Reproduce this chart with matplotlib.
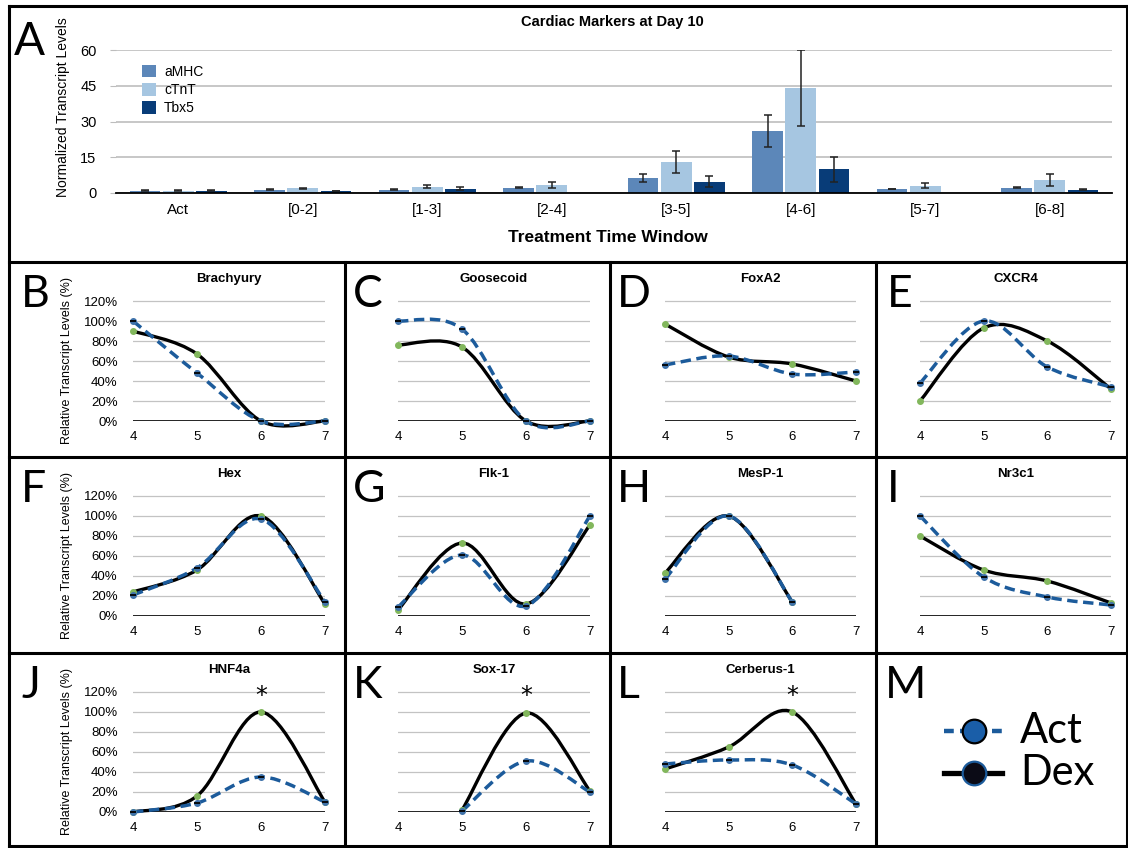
import numpy as np
import matplotlib
matplotlib.use('Agg')
from matplotlib import pyplot as plt
from matplotlib.path import Path
from matplotlib.patches import PathPatch
from matplotlib.lines import Line2D

plt.rcParams['font.family'] = ['Liberation Sans', 'DejaVu Sans']

W, H = 1128, 848

# ---- panel A: cardiac markers at day 10 ----
windows = ['Act', '[0-2]', '[1-3]', '[2-4]', '[3-5]', '[4-6]', '[5-7]', '[6-8]']
amhc = [1.0, 1.4, 1.4, 2.2, 6.3, 25.9, 1.7, 2.3]
amhc_err = [0.2, 0.15, 0.2, 0.3, 1.7, 6.7, 0.15, 0.3]
ctnt = [1.0, 1.9, 2.6, 3.2, 13.2, 44.1, 3.1, 5.6]
ctnt_err = [0.2, 0.2, 0.6, 1.3, 4.6, 16.0, 0.9, 2.5]
tbx5 = [1.0, 0.9, 1.8, np.nan, 4.8, 9.9, np.nan, 1.4]
tbx5_err = [0.2, 0.1, 0.7, np.nan, 2.2, 5.1, np.nan, 0.3]

# ---- panels B-L: relative transcript levels (%) by day ----
days = [4, 5, 6, 7]
brachyury_act = [100, 48, 0, 0]
brachyury_dex = [90, 67, 0, 0]
goosecoid_act = [100, 92, 0, 0]
goosecoid_dex = [76, 74, 0, 0]
foxa2_act = [56, 65, 47, 49]
foxa2_dex = [97, 64, 57, 40]
cxcr4_act = [38, 100, 54, 34]
cxcr4_dex = [20, 93, 80, 32]
hex_act = [21, 48, 97, 14]
hex_dex = [24, 46, 100, 12]
flk1_act = [9, 61, 10, 100]
flk1_dex = [6, 73, 12, 91]
mesp1_act = [37, 100, 14, None]
mesp1_dex = [43, 100, 14, None]
nr3c1_act = [100, 39, 19, 11]
nr3c1_dex = [80, 46, 35, 13]
hnf4a_act = [0, 9, 35, 10]
hnf4a_dex = [0, 16, 100, 10]
sox17_act = [None, 1, 51, 20]
sox17_dex = [None, 2, 99, 21]
cerberus_act = [48, 52, 47, 8]
cerberus_dex = [43, 65, 100, 8]

panels = [
    ('B', 'Brachyury', brachyury_act, brachyury_dex, False),
    ('C', 'Goosecoid', goosecoid_act, goosecoid_dex, False),
    ('D', 'FoxA2', foxa2_act, foxa2_dex, False),
    ('E', 'CXCR4', cxcr4_act, cxcr4_dex, False),
    ('F', 'Hex', hex_act, hex_dex, False),
    ('G', 'Flk-1', flk1_act, flk1_dex, False),
    ('H', 'MesP-1', mesp1_act, mesp1_dex, False),
    ('I', 'Nr3c1', nr3c1_act, nr3c1_dex, False),
    ('J', 'HNF4a', hnf4a_act, hnf4a_dex, True),
    ('K', 'Sox-17', sox17_act, sox17_dex, True),
    ('L', 'Cerberus-1', cerberus_act, cerberus_dex, True),
]

ACT_COLOR = '#1c5b9b'
LETTER_FONT = ['Lato', 'DejaVu Sans']


def px_box(x0, y0, x1, y1):
    ''' pixel box (top-left origin) -> figure fraction rect '''
    return [x0 / W, 1 - y1 / H, (x1 - x0) / W, (y1 - y0) / H]


def fig_line(fig, xs, ys, **kw):
    fig.add_artist(Line2D([x / W for x in xs], [1 - y / H for y in ys],
                          transform=fig.transFigure, **kw))


def fig_marker(fig, x, y, **kw):
    fig.add_artist(Line2D([x / W], [1 - y / H], transform=fig.transFigure, ls='none', **kw))


def smooth_curve(ax, xs, ys, **kw):
    ''' Excel-like smoothed line through the points (Bezier path) '''
    pts = [(x, y) for x, y in zip(xs, ys) if y is not None]
    verts = [pts[0]]
    codes = [Path.MOVETO]
    for i in range(len(pts) - 1):
        p0 = pts[max(i - 1, 0)]
        p1 = pts[i]
        p2 = pts[i + 1]
        p3 = pts[min(i + 2, len(pts) - 1)]
        c1 = (p1[0] + (p2[0] - p0[0]) / 6, p1[1] + (p2[1] - p0[1]) / 6)
        c2 = (p2[0] - (p3[0] - p1[0]) / 6, p2[1] - (p3[1] - p1[1]) / 6)
        verts += [c1, c2, p2]
        codes += [Path.CURVE4] * 3
    ax.add_patch(PathPatch(Path(verts, codes), fill=False, clip_on=False, **kw))


fig = plt.figure(figsize=(W / 100, H / 100), dpi=100)

# ---- panel A ----
axA = fig.add_axes(px_box(116, 50, 1112, 193))
x = np.arange(len(windows))
bw = 0.245
step = 0.266
err_kw = dict(ecolor='#222222', elinewidth=1.1, capsize=3, capthick=1.1)
axA.bar(x - step, amhc, bw, yerr=amhc_err, color='#5c87b9', label='aMHC', error_kw=err_kw, zorder=3)
axA.bar(x, ctnt, bw, yerr=ctnt_err, color='#a6c6e1', label='cTnT', error_kw=err_kw, zorder=3)
axA.bar(x + step, tbx5, bw, yerr=tbx5_err, color='#083c78', label='Tbx5', error_kw=err_kw, zorder=3)
axA.set_xlim(-0.5, len(windows) - 0.5)
axA.set_ylim(0, 60)
axA.set_yticks([0, 15, 30, 45, 60])
axA.set_xticks(x)
axA.set_xticklabels(windows, fontsize=11)
axA.tick_params(axis='y', length=4, color='#bdbdbd', pad=10, labelsize=10.5)
axA.tick_params(axis='x', length=0, pad=7)
axA.yaxis.grid(True, color='#bdbdbd', lw=1.2)
axA.set_axisbelow(True)
for s in ['top', 'right', 'left']:
    axA.spines[s].set_visible(False)
axA.spines['bottom'].set_linewidth(1.3)
axA.spines['bottom'].set_zorder(4)
axA.set_ylabel('Normalized Transcript Levels', fontsize=10)
axA.yaxis.set_label_coords(-0.046, 0.6)
axA.legend(loc='upper left', bbox_to_anchor=(135 / W, 1 - 58 / H), bbox_transform=fig.transFigure,
           frameon=False, fontsize=10, handlelength=1.0, handleheight=1.0,
           handletextpad=0.6, labelspacing=0.3, borderpad=0)
fig.text(612 / W, 1 - 22 / H, 'Cardiac Markers at Day 10', ha='center', va='center',
         fontsize=10.5, fontweight='bold')
fig.text(608 / W, 1 - 238 / H, 'Treatment Time Window', ha='center', va='center',
         fontsize=12.5, fontweight='bold')
fig.text(14 / W, 1 - 21 / H, 'A', ha='left', va='top', fontsize=33, family=LETTER_FONT)

# ---- panels B-L ----
col_x = [(133, 325), (398, 590), (665, 856), (920, 1111)]
col_left = [9, 345, 610, 876]
letter_dx = [12, 8, 7, 11]
row_top = [262, 457, 653]

for i, (letter, title, act, dex, star) in enumerate(panels):
    r, c = divmod(i, 4)
    x0, x1 = col_x[c]
    top = row_top[r]
    ax = fig.add_axes(px_box(x0, top + 38, x1, top + 159))
    ax.set_xlim(4, 7)
    ax.set_ylim(0, 121)
    ax.set_xticks(days)
    ax.set_yticks(range(0, 121, 20))
    ax.yaxis.grid(True, color='#c3c3c3', lw=0.9)
    ax.set_axisbelow(True)
    for s in ax.spines.values():
        s.set_visible(False)
    ax.axhline(0, color='black', lw=1.2, zorder=1)
    ax.tick_params(length=0, labelsize=9.5)
    ax.tick_params(axis='x', pad=7)
    if c == 0:
        ax.set_yticklabels(['%d%%' % v for v in range(0, 121, 20)])
        ax.tick_params(axis='y', pad=11)
        ax.set_ylabel('Relative Transcript Levels (%)', fontsize=9)
        ax.yaxis.set_label_coords(-0.31, 0.5)
    else:
        ax.set_yticklabels([])

    smooth_curve(ax, days, dex, edgecolor='black', lw=2.4, zorder=3)
    smooth_curve(ax, days, act, edgecolor=ACT_COLOR, lw=2.5, linestyle=(0, (3, 1.6)), zorder=4)
    dx = [d for d, v in zip(days, dex) if v is not None]
    dv = [v for v in dex if v is not None]
    ax_ = [d for d, v in zip(days, act) if v is not None]
    av = [v for v in act if v is not None]
    ax.plot(dx, dv, 'o', ms=4, color='#82b75c', clip_on=False, zorder=5)
    ax.plot(ax_, av, 'o', ms=4, color='#3f72aa', clip_on=False, zorder=5)
    ax.plot(ax_, av, '_', ms=5, mew=1.3, color='black', clip_on=False, zorder=6)

    ax.text(0.5, 1 + 21 / 121, title, transform=ax.transAxes, ha='center', va='center',
            fontsize=9.5, fontweight='bold')
    if star:
        ax.text(6, 116, '*', ha='center', va='center', fontsize=17, family='DejaVu Sans')
    fig.text((col_left[c] + letter_dx[c]) / W, 1 - (top + 12) / H, letter, ha='left', va='top',
             fontsize=32, family=LETTER_FONT)

# ---- panel M: legend ----
fig.text((876 + 9) / W, 1 - (653 + 12) / H, 'M', ha='left', va='top', fontsize=32, family=LETTER_FONT)
fig_line(fig, [944, 1002], [731, 731], color=ACT_COLOR, lw=3.2, linestyle=(0, (2.2, 1.4)))
fig_marker(fig, 974, 731, marker='o', ms=17, mfc='#1a5ea8', mec='black', mew=1.6)
fig_line(fig, [944, 1002], [773, 773], color='black', lw=3.8)
fig_marker(fig, 974, 773, marker='o', ms=17, mfc='#0b0b16', mec=ACT_COLOR, mew=1.6)
fig.text(1020 / W, 1 - 731 / H, 'Act', ha='left', va='center', fontsize=30, family=LETTER_FONT)
fig.text(1020 / W, 1 - 773 / H, 'Dex', ha='left', va='center', fontsize=30, family=LETTER_FONT)

# ---- panel borders ----
bk = dict(color='black', lw=2.2, solid_capstyle='projecting')
fig_line(fig, [9, 1127], [6, 6], **bk)
fig_line(fig, [9, 1127], [846, 846], **bk)
fig_line(fig, [9, 9], [6, 846], **bk)
fig_line(fig, [1127, 1127], [6, 846], **bk)
for y in row_top:
    fig_line(fig, [9, 1127], [y, y], **bk)
for xv in col_left[1:]:
    fig_line(fig, [xv, xv], [row_top[0], 846], **bk)

fig.savefig('out.png', dpi=100)
